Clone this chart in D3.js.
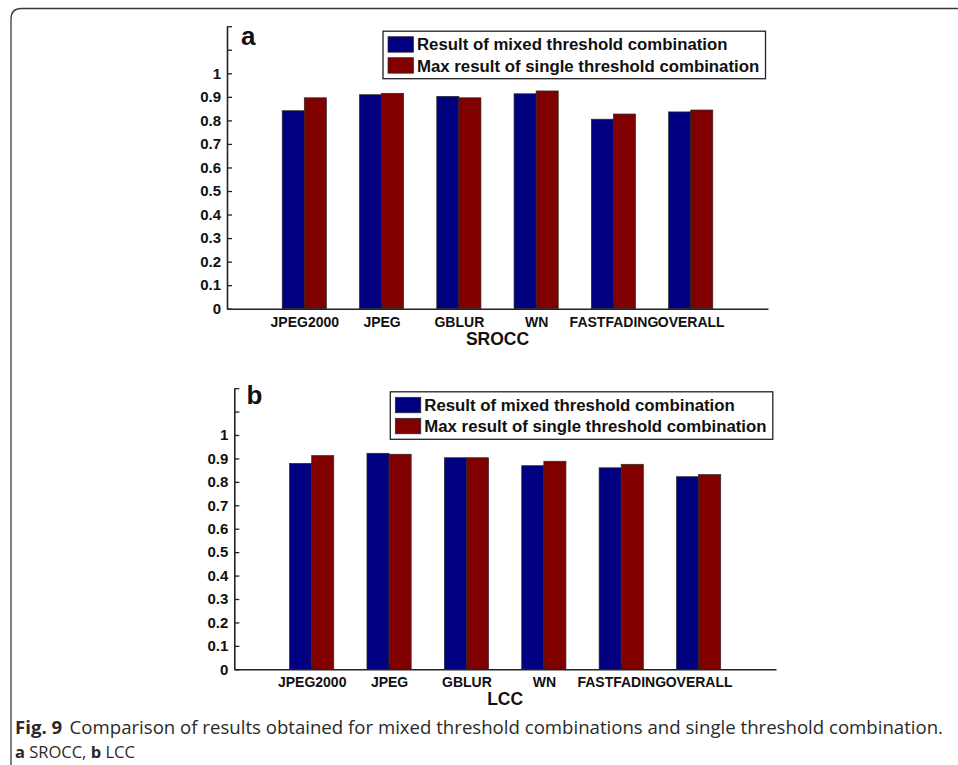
<!DOCTYPE html>
<html>
<head>
<meta charset="utf-8">
<script src="https://cdn.jsdelivr.net/npm/d3@7"></script>
<style>
  html, body { margin: 0; padding: 0; background: #fff; }
  svg { display: block; }
</style>
</head>
<body>
<svg id="fig" width="958" height="765"></svg>
<script>
// Distortion types on the x axis
const categories = ["JPEG2000", "JPEG", "GBLUR", "WN", "FASTFADING", "OVERALL"];

// SROCC per distortion type
const sroccMixed  = [0.841, 0.909, 0.902, 0.913, 0.805, 0.836];
const sroccSingle = [0.896, 0.915, 0.896, 0.925, 0.827, 0.844];

// LCC per distortion type
const lccMixed  = [0.879, 0.922, 0.903, 0.869, 0.860, 0.822];
const lccSingle = [0.912, 0.918, 0.903, 0.888, 0.875, 0.831];

// y ticks (labels only up to 1)
const yTicks = [0, 0.1, 0.2, 0.3, 0.4, 0.5, 0.6, 0.7, 0.8, 0.9, 1, 1.1, 1.2];
const yTickLabels = ["0", "0.1", "0.2", "0.3", "0.4", "0.5", "0.6", "0.7", "0.8", "0.9", "1", "", ""];

const seriesNames = ["Result of mixed threshold combination", "Max result of single threshold combination"];
const seriesColors = ["#000080", "#800000"];

const svg = d3.select("#fig");

// Rounded figure frame
svg.append("path")
  .attr("d", "M11,775 L11,19 Q11,8.5 21.5,8.5 L970,8.5")
  .attr("fill", "none")
  .attr("stroke", "#3a3a3a")
  .attr("stroke-width", 1.3);

const FONT = "'Liberation Sans', Arial, Helvetica, sans-serif";

function panel(opts) {
  const { left, right, zeroY, unitPx, letter, letterX, letterY, xTitle, mixed, single } = opts;
  const g = svg.append("g");

  const x = d3.scaleLinear().domain([0, 7]).range([left, right]);
  const y = d3.scaleLinear().domain([0, 1.2]).range([zeroY, zeroY - 1.2 * unitPx]);

  const barW = 2 / 7;   // width of each bar in category units
  const data = categories.map((c, i) => ({ c, i: i + 1, v: [mixed[i], single[i]] }));

  // Bars
  [0, 1].forEach(s => {
    g.selectAll(null)
      .data(data)
      .enter().append("rect")
      .attr("x", d => x(d.i - barW + s * barW))
      .attr("width", d => x(barW) - x(0))
      .attr("y", d => y(d.v[s]))
      .attr("height", d => y(0) - y(d.v[s]))
      .attr("fill", seriesColors[s])
      .attr("stroke", "#2a2a2a")
      .attr("stroke-width", 0.7);
  });

  // Y axis (ticks inward)
  const yAxis = d3.axisLeft(y)
    .tickValues(yTicks)
    .tickSizeInner(-5)
    .tickSizeOuter(0)
    .tickPadding(6)
    .tickFormat((d, i) => yTickLabels[i]);
  const ya = g.append("g").attr("transform", `translate(${left},0)`).call(yAxis);
  ya.select(".domain").attr("stroke", "#222").attr("stroke-width", 1.6);
  ya.selectAll(".tick line").attr("stroke", "#222").attr("stroke-width", 1.3);
  ya.selectAll("text")
    .attr("font-family", FONT).attr("font-size", 15).attr("font-weight", "bold")
    .attr("fill", "#111");

  // X axis
  const xAxis = d3.axisBottom(x)
    .tickValues(d3.range(1, 7))
    .tickSizeInner(-5)
    .tickSizeOuter(0)
    .tickPadding(8)
    .tickFormat(d => categories[d - 1]);
  const xa = g.append("g").attr("transform", `translate(0,${zeroY})`).call(xAxis);
  xa.select(".domain").attr("stroke", "#222").attr("stroke-width", 1.6);
  xa.selectAll(".tick line").attr("stroke", "#222");
  xa.selectAll("text")
    .attr("font-family", FONT).attr("font-size", 14).attr("font-weight", "bold")
    .attr("fill", "#111");

  // Axis title
  g.append("text")
    .attr("x", x(3.5)).attr("y", zeroY + 36)
    .attr("text-anchor", "middle")
    .attr("font-family", FONT).attr("font-size", 17.5).attr("font-weight", "bold")
    .attr("fill", "#111")
    .text(xTitle);

  // Panel letter
  g.append("text")
    .attr("x", letterX).attr("y", letterY)
    .attr("font-family", FONT).attr("font-size", 26).attr("font-weight", "bold")
    .attr("fill", "#111")
    .text(letter);

  // Legend
  const lx = left + 156, ly = zeroY - 277.5;
  const lg = g.append("g").attr("transform", `translate(${lx},${ly})`);
  lg.append("rect")
    .attr("x", 0).attr("y", 0).attr("width", 382.5).attr("height", 47.5)
    .attr("fill", "#fff").attr("stroke", "#222").attr("stroke-width", 1.3);
  seriesNames.forEach((name, s) => {
    lg.append("rect")
      .attr("x", 5).attr("y", 5.5 + s * 21).attr("width", 25.5).attr("height", 15.5)
      .attr("fill", seriesColors[s]).attr("stroke", "#2a2a2a").attr("stroke-width", 0.7);
    lg.append("text")
      .attr("x", 34).attr("y", 19 + s * 21.5)
      .attr("font-family", FONT).attr("font-size", 16.8).attr("font-weight", "bold")
      .attr("fill", "#111")
      .text(name);
  });
}

panel({
  left: 227, right: 768, zeroY: 308.7, unitPx: 235.4,
  letter: "a", letterX: 241, letterY: 44.5, xTitle: "SROCC",
  mixed: sroccMixed, single: sroccSingle
});

panel({
  left: 234.3, right: 776, zeroY: 669.3, unitPx: 234.3,
  letter: "b", letterX: 246.5, letterY: 403.5, xTitle: "LCC",
  mixed: lccMixed, single: lccSingle
});

// Caption
const CAP = "'Open Sans', 'Noto Sans', sans-serif";
const cap1 = svg.append("text")
  .attr("x", 15).attr("y", 734)
  .attr("font-family", CAP).attr("font-size", 17.5).attr("fill", "#2a2a2a");
cap1.append("tspan").attr("font-weight", "bold").text("Fig. 9");
cap1.append("tspan").attr("dx", 7).text("Comparison of results obtained for mixed threshold combinations and single threshold combination.");
cap1.attr("textLength", 928).attr("lengthAdjust", "spacingAndGlyphs");

const cap2 = svg.append("text")
  .attr("x", 15).attr("y", 758)
  .attr("font-family", CAP).attr("font-size", 16.5).attr("fill", "#2a2a2a");
cap2.append("tspan").attr("font-weight", "bold").text("a");
cap2.append("tspan").text(" SROCC, ");
cap2.append("tspan").attr("font-weight", "bold").text("b");
cap2.append("tspan").text(" LCC");
</script>
</body>
</html>
